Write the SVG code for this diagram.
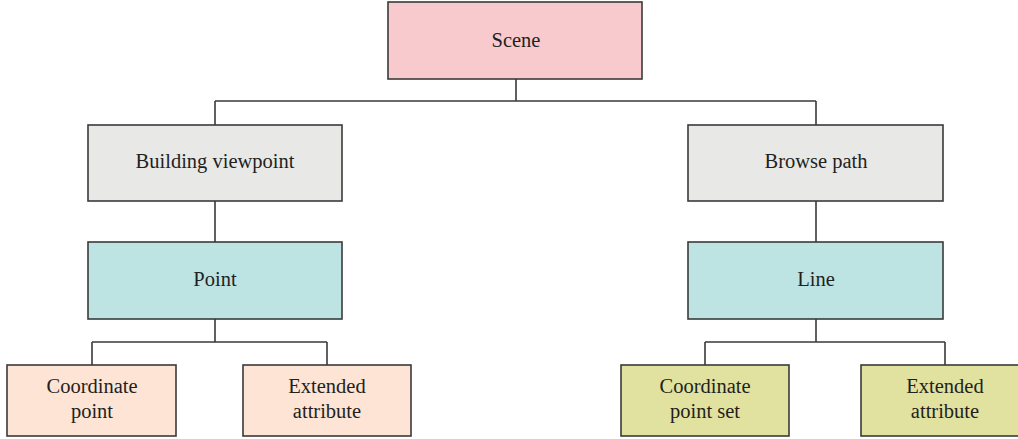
<svg xmlns="http://www.w3.org/2000/svg" width="1018" height="439" viewBox="0 0 1018 439">
<style>
rect{stroke:#3a3a3a;stroke-width:1.6}
text{font-family:"Liberation Serif","DejaVu Serif",serif;font-size:20.5px;fill:#231f20;text-anchor:middle}
.c{fill:none;stroke:#3a3a3a;stroke-width:1.6}
.pink{fill:#f9cacd}.gray{fill:#e8e9e7}.teal{fill:#bee3e3}.peach{fill:#fde4d5}.olive{fill:#e1e29f}
</style>
<rect width="1018" height="439" fill="#fff" style="stroke:none"/>
<g id="connectors">
<path class="c" d="M516 79V101M215 101H816M215 101V125M816 101V125"/>
<path class="c" d="M215 201V242M816 201V242"/>
<path class="c" d="M215 319V342M92 342H327M92 342V365M327 342V365"/>
<path class="c" d="M816 319V342M705 342H945M705 342V365M945 342V365"/>
</g>
<g id="scene"><rect class="pink" x="388" y="2" width="254" height="77"/><text x="516" y="47">Scene</text></g>
<g id="building-viewpoint"><rect class="gray" x="88" y="125" width="254" height="76"/><text x="215" y="168">Building viewpoint</text></g>
<g id="browse-path"><rect class="gray" x="688" y="125" width="255" height="76"/><text x="816" y="168">Browse path</text></g>
<g id="point"><rect class="teal" x="88" y="242" width="254" height="77"/><text x="215" y="286">Point</text></g>
<g id="line"><rect class="teal" x="688" y="242" width="255" height="77"/><text x="816" y="286">Line</text></g>
<g id="coordinate-point"><rect class="peach" x="7" y="365" width="169" height="71"/><text x="92" y="393">Coordinate</text><text x="92" y="418">point</text></g>
<g id="extended-attribute-left"><rect class="peach" x="243" y="365" width="168" height="71"/><text x="327" y="393">Extended</text><text x="327" y="418">attribute</text></g>
<g id="coordinate-point-set"><rect class="olive" x="621" y="365" width="168" height="71"/><text x="705" y="393">Coordinate</text><text x="705" y="418">point set</text></g>
<g id="extended-attribute-right"><rect class="olive" x="861" y="365" width="168" height="71"/><text x="945" y="393">Extended</text><text x="945" y="418">attribute</text></g>
</svg>
